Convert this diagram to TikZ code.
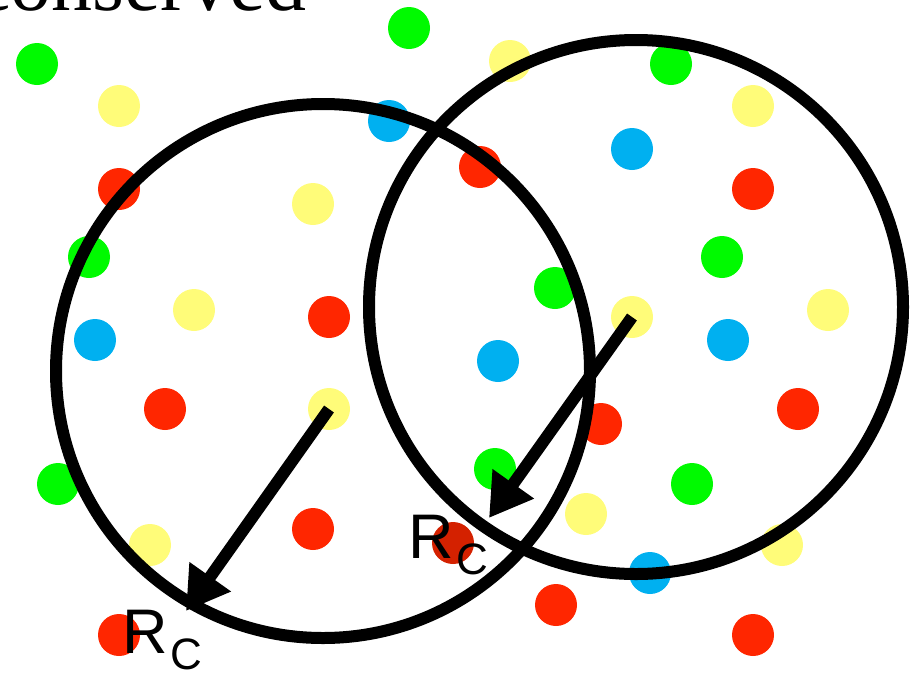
\documentclass[tikz,border=0pt]{standalone}
\usepackage{fontspec}
\setmainfont{Liberation Serif}
\newfontfamily\labelfont{Liberation Sans}
\usetikzlibrary{arrows.meta}

\definecolor{dotgreen}{RGB}{0,250,0}
\definecolor{dotyellow}{RGB}{255,252,121}
\definecolor{dotred}{RGB}{255,38,0}
\definecolor{dotblue}{RGB}{0,176,240}
\definecolor{dotdark}{RGB}{212,33,0}

\newcommand{\rclabel}{R\hspace{3pt}\raisebox{-16pt}{\fontsize{44}{44}\selectfont C}}

\begin{document}
\begin{tikzpicture}[
  x=1pt, y=-1pt,
  dot/.style={circle, draw=none, inner sep=0pt, minimum size=42pt},
  ring/.style={circle, draw=black, line width=12pt, inner sep=0pt, minimum size=534pt},
  rline/.style={draw=black, line width=12pt, -{Triangle[length=42pt, width=48pt]}},
  rclab/.style={font=\labelfont\fontsize{63}{63}\selectfont, anchor=base west, inner sep=0pt}
]
\useasboundingbox (0,0) rectangle (916,673);

\foreach \p [count=\i] in {(37,64),(409,28),(89,257),(671,64),(722,257),(555,288),(58,484),(495,469),(692,484)}
  \node[dot, fill=dotgreen] (g\i) at \p {};
\foreach \p [count=\i] in {(119,106),(313,204),(194,310),(510,61),(753,106),(828,310),(150,545),(586,514),(782,545)}
  \node[dot, fill=dotyellow] (y\i) at \p {};
\foreach \p [count=\i] in {(119,189),(329,317),(480,167),(753,189),(165,409),(313,529),(119,635),(601,424),(798,409),(556,605),(753,635)}
  \node[dot, fill=dotred] (r\i) at \p {};
\foreach \p [count=\i] in {(389,121),(95,340),(632,149),(728,340),(498,361),(650,573)}
  \node[dot, fill=dotblue] (b\i) at \p {};
\node[dot, fill=dotdark] (dk) at (453,543) {};
\node[dot, fill=dotyellow] (yL) at (329,409) {};
\node[dot, fill=dotyellow] (yR) at (632,317) {};

\node[ring] (left) at (323,371) {};
\node[ring] (right) at (636,307) {};

\coordinate (tipL) at (186,611);
\coordinate (tipR) at (489,518);
\draw[rline] (yL.center) -- (tipL);
\draw[rline] (yR.center) -- (tipR);

\node[rclab] (rcL) at (122,653) {\rclabel};
\node[rclab] (rcR) at (408,558) {\rclabel};

\node[anchor=base west, inner sep=0pt, font=\fontsize{82}{82}\selectfont] (word) at (-26,10) {conserved};
\end{tikzpicture}
\end{document}
